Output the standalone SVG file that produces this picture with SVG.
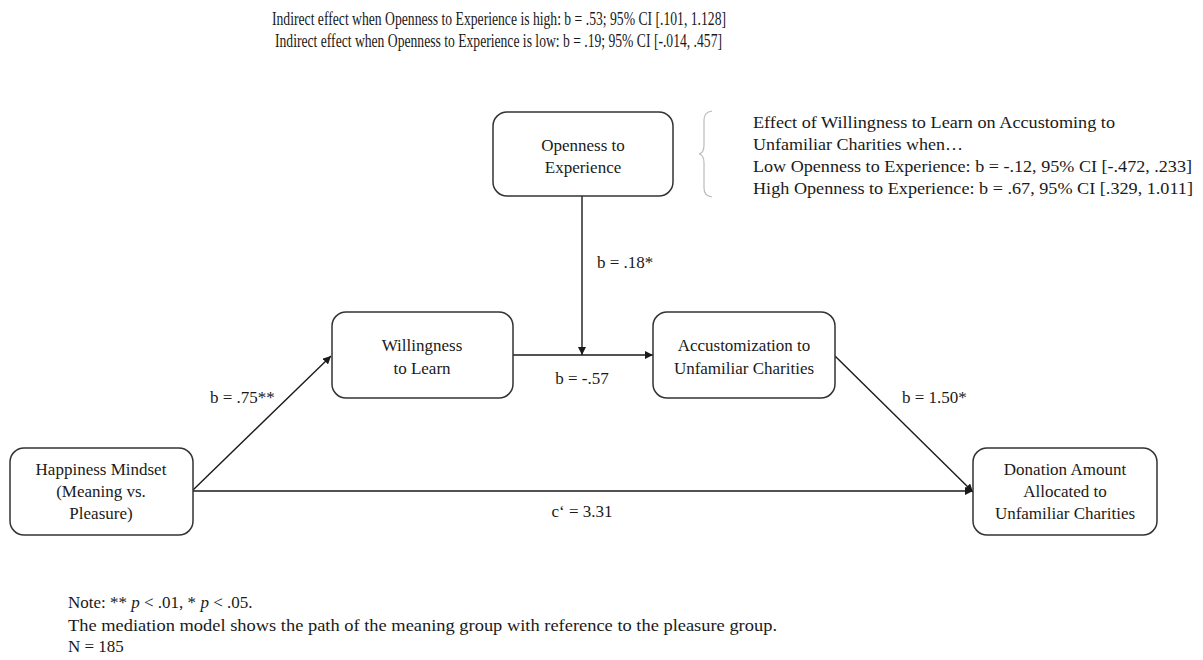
<svg xmlns="http://www.w3.org/2000/svg" width="1203" height="660" viewBox="0 0 1203 660">
  <style>
    text { font-family: "Liberation Serif", "Times New Roman", serif; font-size: 17px; fill: #1a1a1a; }
    .c { text-anchor: middle; }
    .head { font-size: 18px; }
    .box { fill: #ffffff; stroke: #333333; stroke-width: 1.5; }
    .edge { fill: none; stroke: #1a1a1a; stroke-width: 1.4; }
  </style>
  <defs>
    <marker id="arrow" viewBox="0 0 10 10" refX="10" refY="5" markerWidth="8" markerHeight="8" markerUnits="userSpaceOnUse" orient="auto">
      <path d="M0,0 L10,5 L0,10 z" fill="#1a1a1a"/>
    </marker>
  </defs>
  <rect width="1203" height="660" fill="#ffffff"/>

  <!-- header: conditional indirect effects -->
  <g id="header">
    <text class="head" x="272" y="25" textLength="454" lengthAdjust="spacingAndGlyphs">Indirect effect when Openness to Experience is high: b = .53; 95% CI [.101, 1.128]</text>
    <text class="head" x="275" y="47" textLength="447" lengthAdjust="spacingAndGlyphs">Indirect effect when Openness to Experience is low: b = .19; 95% CI [-.014, .457]</text>
  </g>

  <!-- connectors -->
  <g id="connectors">
    <line class="edge" x1="192" y1="491" x2="331" y2="356" marker-end="url(#arrow)"/>
    <line class="edge" x1="513" y1="355" x2="653" y2="355" marker-end="url(#arrow)"/>
    <line class="edge" x1="582" y1="196" x2="582" y2="355" marker-end="url(#arrow)"/>
    <line class="edge" x1="835" y1="356" x2="973" y2="492" marker-end="url(#arrow)"/>
    <line class="edge" x1="192" y1="491" x2="973" y2="491" marker-end="url(#arrow)"/>
    <text x="597" y="268">b = .18*</text>
    <text x="582" y="384" class="c">b = -.57</text>
    <text x="210" y="403">b = .75**</text>
    <text x="902" y="403">b = 1.50*</text>
    <text x="582" y="517" class="c">c‘ = 3.31</text>
  </g>

  <g id="openness">
    <rect class="box" x="493" y="112" width="180" height="84" rx="14"/>
    <text x="583" y="151" class="c">Openness to</text>
    <text x="583" y="173" class="c">Experience</text>
  </g>

  <!-- moderation note with brace -->
  <g id="moderation-note">
    <path d="M712,111 Q704,112 704,120 L704,145 Q704,153 699,154 Q704,155 704,163 L704,188 Q704,196 712,197" fill="none" stroke="#bbbbbb" stroke-width="1.2"/>
    <text x="753" y="128" textLength="362" lengthAdjust="spacingAndGlyphs">Effect of Willingness to Learn on Accustoming to</text>
    <text x="753" y="150" textLength="210" lengthAdjust="spacingAndGlyphs">Unfamiliar Charities when…</text>
    <text x="753" y="172" textLength="439" lengthAdjust="spacingAndGlyphs">Low Openness to Experience: b = -.12, 95% CI [-.472, .233]</text>
    <text x="753" y="194" textLength="440" lengthAdjust="spacingAndGlyphs">High Openness to Experience: b = .67, 95% CI [.329, 1.011]</text>
  </g>

  <g id="willingness">
    <rect class="box" x="332" y="312" width="181" height="86" rx="14"/>
    <text x="422" y="351" class="c">Willingness</text>
    <text x="422" y="374" class="c">to Learn</text>
  </g>

  <g id="accustomization">
    <rect class="box" x="653" y="312" width="182" height="86" rx="14"/>
    <text x="744" y="351" class="c">Accustomization to</text>
    <text x="744" y="374" class="c">Unfamiliar Charities</text>
  </g>

  <g id="happiness">
    <rect class="box" x="10" y="448" width="183" height="87" rx="14"/>
    <text x="101" y="475" class="c">Happiness Mindset</text>
    <text x="101" y="497" class="c">(Meaning vs.</text>
    <text x="101" y="519" class="c">Pleasure)</text>
  </g>

  <g id="donation">
    <rect class="box" x="973" y="448" width="184" height="87" rx="14"/>
    <text x="1065" y="475" class="c">Donation Amount</text>
    <text x="1065" y="497" class="c">Allocated to</text>
    <text x="1065" y="519" class="c">Unfamiliar Charities</text>
  </g>

  <g id="footnote">
    <text x="68" y="608">Note: ** <tspan font-style="italic">p</tspan> &lt; .01, * <tspan font-style="italic">p</tspan> &lt; .05.</text>
    <text x="68" y="631" textLength="709" lengthAdjust="spacingAndGlyphs">The mediation model shows the path of the meaning group with reference to the pleasure group.</text>
    <text x="68" y="652">N = 185</text>
  </g>
</svg>
